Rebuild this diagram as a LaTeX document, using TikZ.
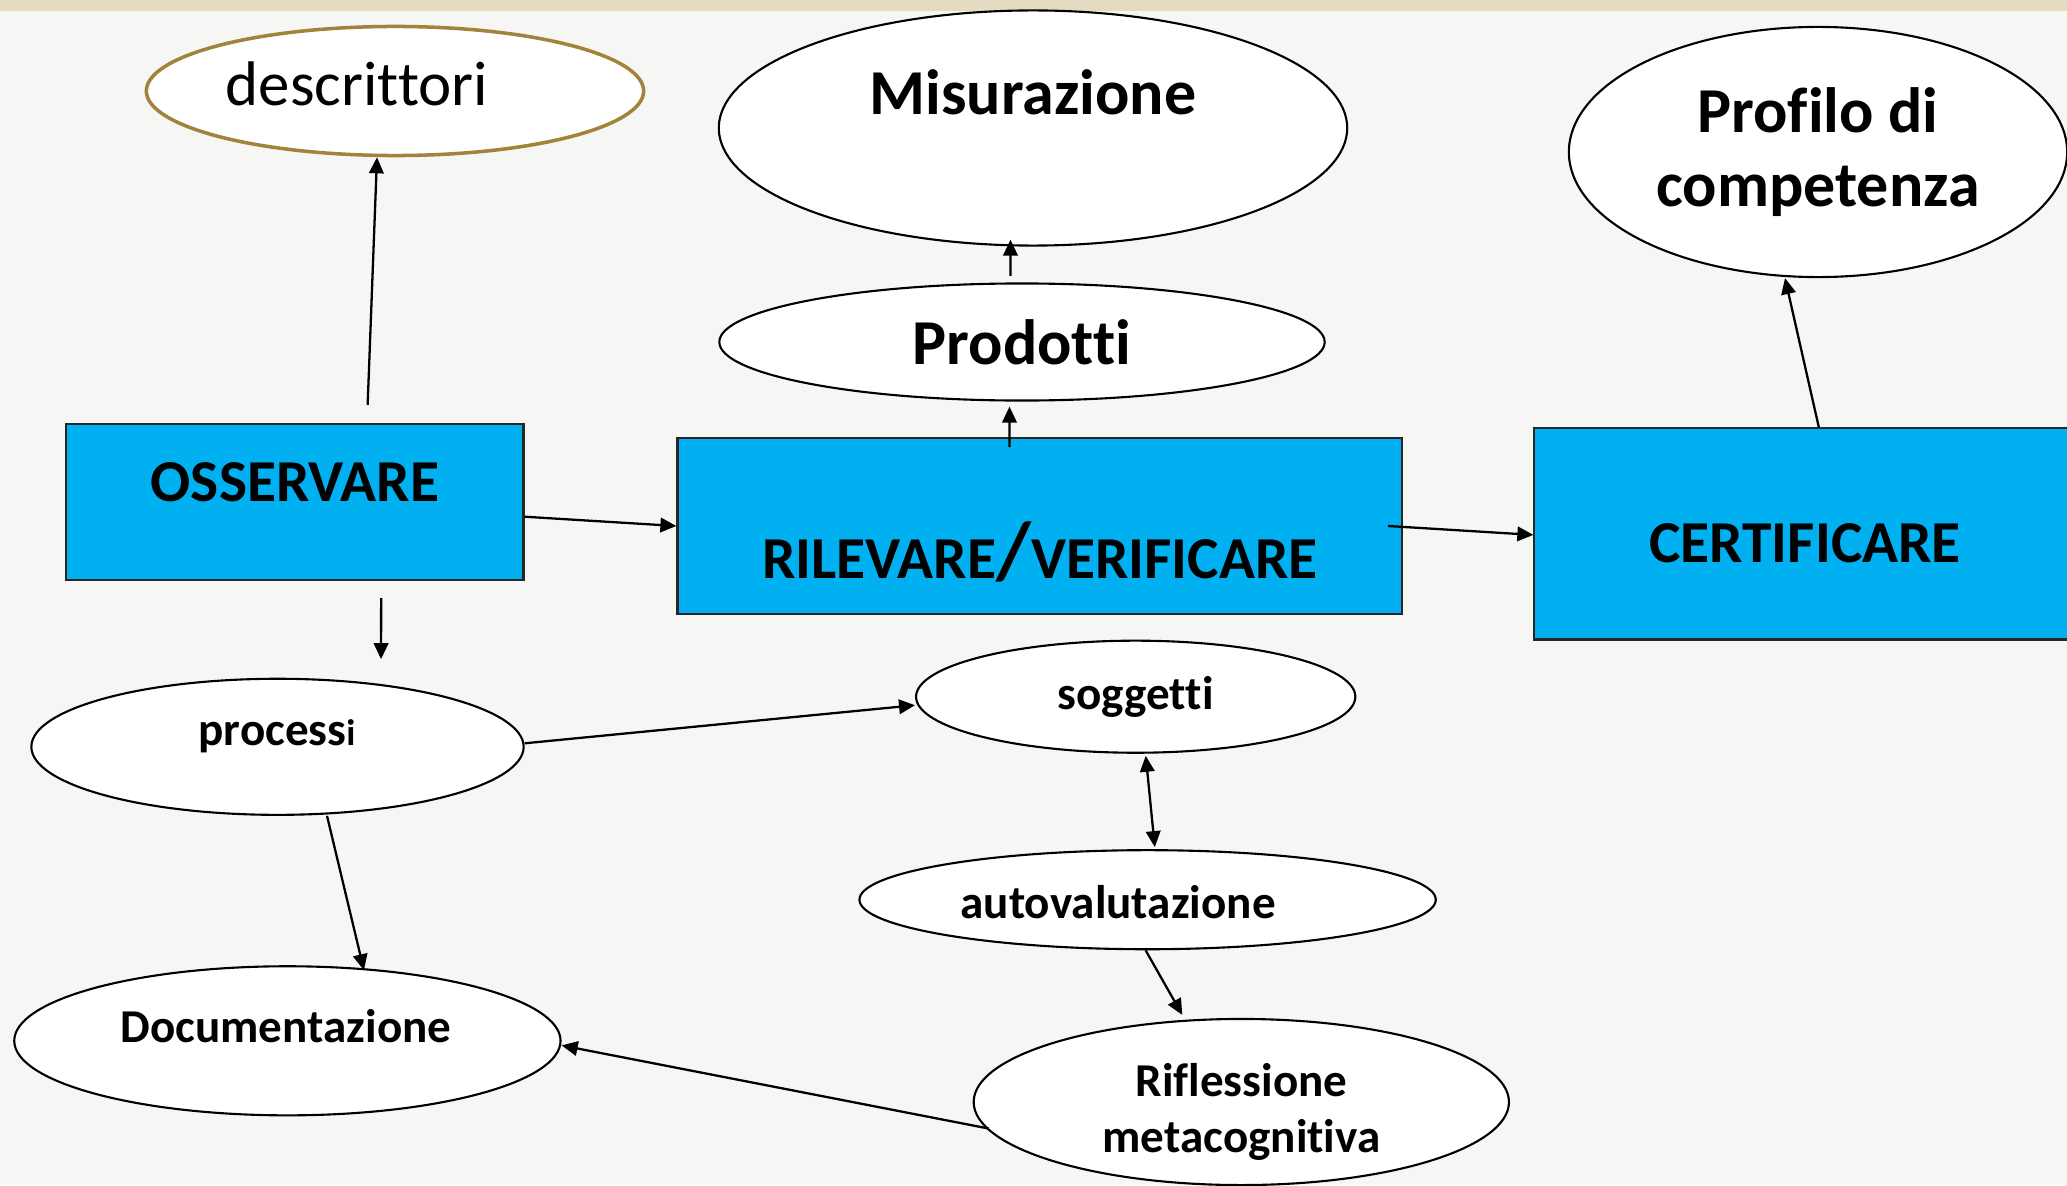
\documentclass[tikz,border=0pt]{standalone}
\usepackage{fontspec}
\setmainfont{Carlito}[Ligatures=NoCommon]
\usepackage{tikz}
\usetikzlibrary{arrows.meta,shapes.geometric}

\definecolor{boxblue}{RGB}{0,176,240}
\definecolor{descrgold}{RGB}{163,130,58}
\definecolor{paper}{RGB}{246,246,245}
\definecolor{strip}{RGB}{230,218,192}

\begin{document}
\begin{tikzpicture}[
  x=0.01cm, y=-0.01cm,
  act/.style={rectangle, draw=black!85, fill=boxblue, line width=0.6pt, inner sep=0pt},
  oval/.style={ellipse, draw, fill=white, line width=0.6pt, inner sep=0pt},
  big/.style={font=\bfseries\fontsize{18.2}{21}\selectfont, align=center},
  caps/.style={font=\bfseries\fontsize{16.9}{20}\selectfont},
  small/.style={font=\bfseries\fontsize{13.4}{16}\selectfont, align=center},
  arr/.style={->, >={Triangle[length=1.6mm, width=1.45mm]}, line width=0.65pt}
]

  \fill[paper] (0,0) rectangle (2067,1185);
  \fill[strip] (0,0) rectangle (2067,11);
  \useasboundingbox (0,0) rectangle (2067,1185);

  % top row
  \node[oval, draw=descrgold, line width=1pt, minimum width=4.97cm, minimum height=1.29cm] (descr) at (395,91) {};
  \node[font=\fontsize{17.9}{21}\selectfont] (descr-t) at (357,84) {descrittori};

  \node[oval, minimum width=6.28cm, minimum height=2.35cm] (misur) at (1033,128) {};
  \node[big] (misur-t) at (1033,92) {Misurazione};
  \node[oval, big, minimum width=6.05cm, minimum height=1.17cm] (prod) at (1022,342) {Prodotti};
  \node[oval, big, minimum width=4.98cm, minimum height=2.5cm] (prof) at (1818,152) {Profilo di\\competenza};

  % the three actions
  \node[act, minimum width=4.575cm, minimum height=1.555cm] (oss) at (294.6,502.2) {};
  \node[caps] (oss-t) at (295,482) {OSSERVARE};
  \node[act, minimum width=7.237cm, minimum height=1.766cm] (ril) at (1039.5,526) {};
  \node[caps] (ril-t) at (1040,552) {RILEVARE{\fontsize{23}{23}\selectfont/}VERIFICARE};
  \node[act, minimum width=5.405cm, minimum height=2.11cm] (cert) at (1804.8,533.9) {};
  \node[caps] (cert-t) at (1805,543) {CERTIFICARE};

  % lower part
  \node[oval, minimum width=4.92cm, minimum height=1.36cm] (proc) at (277.5,746.8) {};
  \node[small] (proc-t) at (277,736) {process{\fontsize{10.5}{12}\selectfont i}};
  \node[oval, small, minimum width=4.39cm, minimum height=1.12cm] (sogg) at (1135.7,696.7) {soggetti};
  \node[oval, minimum width=5.76cm, minimum height=0.99cm] (auto) at (1147.6,899.7) {};
  \node[small] (auto-t) at (1118,902) {autovalutazione};
  \node[oval, minimum width=5.46cm, minimum height=1.49cm] (docum) at (287.4,1040.8) {};
  \node[small] (docum-t) at (286,1026) {Documentazione};
  \node[oval, minimum width=5.35cm, minimum height=1.66cm] (refl) at (1241.3,1102) {};
  \node[small] (refl-t) at (1241.5,1112) {Riflessione\\metacognitiva};

  \draw[arr] ([xshift=0.73cm, yshift=0.185cm]oss.north) -- ([xshift=-0.18cm]descr.south);
  \draw[arr] ([yshift=-0.145cm]oss.east) -- (ril.west);
  \draw[arr] ([xshift=0.865cm, yshift=-0.17cm]oss.south) -- ([xshift=1.035cm, yshift=0.185cm]proc.north);
  \draw[arr] ([xshift=-0.3cm, yshift=-0.105cm]ril.north) -- ([xshift=-0.125cm, yshift=-0.05cm]prod.south);
  \draw[arr] ([xshift=-0.115cm, yshift=0.065cm]prod.north) -- ([xshift=-0.225cm, yshift=0.07cm]misur.south);
  \draw[arr] ([xshift=-0.145cm]ril.east) -- ([yshift=-0.01cm]cert.west);
  \draw[arr] ([xshift=0.14cm]cert.north) -- ([xshift=-0.33cm]prof.south);

  \draw[arr] ([yshift=0.035cm]proc.east) -- ([yshift=-0.085cm]sogg.west);
  \draw[arr] ([xshift=0.495cm]proc.south) -- ([xshift=0.765cm, yshift=-0.05cm]docum.north);
  \draw[arr, <->] ([xshift=0.1cm, yshift=-0.02cm]sogg.south) -- ([xshift=0.072cm, yshift=0.02cm]auto.north);
  \draw[arr] ([xshift=-0.02cm]auto.south) -- ([xshift=-0.59cm, yshift=0.03cm]refl.north);
  \draw[arr] ([xshift=0.16cm, yshift=-0.265cm]refl.west) -- ([yshift=-0.046cm]docum.east);
\end{tikzpicture}
\end{document}
